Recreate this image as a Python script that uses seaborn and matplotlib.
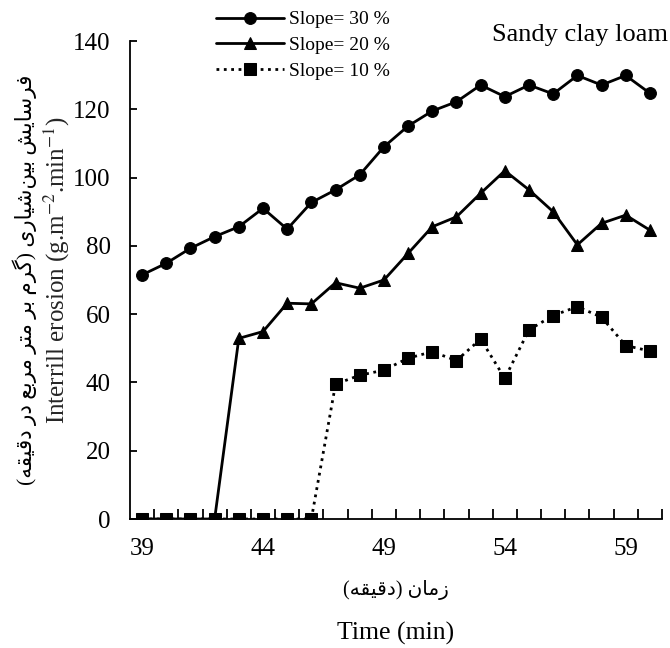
import numpy as np
import pandas as pd
import matplotlib
matplotlib.use("Agg")
import matplotlib.pyplot as plt
import seaborn as sns

# --- data -----------------------------------------------------------------
time_min = list(range(39, 61))
slope_30 = [71.5, 74.9, 79.3, 82.7, 85.6, 91.0, 84.9, 92.7, 96.4, 100.8, 109.0,
            115.1, 119.5, 122.2, 127.1, 123.7, 127.1, 124.5, 129.9, 127.1, 129.9, 124.7]
slope_20 = [0, 0, 0, 0, 52.9, 54.9, 63.2, 63.0, 69.2, 67.6, 70.0,
            77.8, 85.6, 88.5, 95.4, 102.0, 96.4, 90.0, 80.3, 86.6, 89.0, 84.6]
slope_10 = [0, 0, 0, 0, 0, 0, 0, 0, 39.5, 42.1, 43.6,
            47.1, 49.0, 46.4, 52.7, 41.2, 55.4, 59.6, 62.2, 59.1, 50.8, 49.2]
series_labels = ["Slope= 30 %", "Slope= 20 %", "Slope= 10 %"]
x_ticks = [39, 44, 49, 54, 59]
y_ticks = list(range(0, 141, 20))

# --- tiny Persian shaper (presentation forms, visual order) ----------------
FORMS = {
    "ا": ("\uFE8D", "\uFE8E", None, None),
    "ب": ("\uFE8F", "\uFE90", "\uFE91", "\uFE92"),
    "ت": ("\uFE95", "\uFE96", "\uFE97", "\uFE98"),
    "د": ("\uFEA9", "\uFEAA", None, None),
    "ر": ("\uFEAD", "\uFEAE", None, None),
    "ز": ("\uFEAF", "\uFEB0", None, None),
    "س": ("\uFEB1", "\uFEB2", "\uFEB3", "\uFEB4"),
    "ش": ("\uFEB5", "\uFEB6", "\uFEB7", "\uFEB8"),
    "ع": ("\uFEC9", "\uFECA", "\uFECB", "\uFECC"),
    "ف": ("\uFED1", "\uFED2", "\uFED3", "\uFED4"),
    "ق": ("\uFED5", "\uFED6", "\uFED7", "\uFED8"),
    "م": ("\uFEE1", "\uFEE2", "\uFEE3", "\uFEE4"),
    "ن": ("\uFEE5", "\uFEE6", "\uFEE7", "\uFEE8"),
    "ه": ("\uFEE9", "\uFEEA", "\uFEEB", "\uFEEC"),
    "ی": ("\uFEEF", "\uFEF0", "\uFEF3", "\uFEF4"),
    "گ": ("\uFB92", "\uFB93", "\uFB94", "\uFB95"),
}


def shape_fa(text):
    out = []
    for i, c in enumerate(text):
        if c not in FORMS:
            out.append(c)
            continue
        prev = text[i - 1] if i > 0 else ""
        nxt = text[i + 1] if i + 1 < len(text) else ""
        iso, fin, ini, med = FORMS[c]
        jp = prev in FORMS and FORMS[prev][2] is not None
        jn = nxt in FORMS and ini is not None
        out.append(med if (jp and jn) else fin if jp else ini if jn else iso)
    vis = "".join(out).replace("\u200c", "")[::-1]
    return vis.translate(str.maketrans("()", ")("))


fa_ylabel = shape_fa("فرسایش بین\u200cشیاری (گرم بر متر مربع در دقیقه)")
fa_xlabel = shape_fa("زمان (دقیقه)")

# --- style ------------------------------------------------------------------
sns.set_style("white")
plt.rcParams.update({
    "font.family": ["Liberation Serif", "DejaVu Sans"],
    "mathtext.fontset": "stix",
    "axes.edgecolor": "black",
    "axes.linewidth": 1.3,
    "xtick.color": "black",
    "ytick.color": "black",
    "text.color": "black",
})
FA_FONT = ["Liberation Serif", "DejaVu Sans"]

df = pd.DataFrame({"time": time_min, "s30": slope_30, "s20": slope_20, "s10": slope_10})

fig = plt.figure(figsize=(6.7, 6.48), dpi=100)
ax = fig.add_axes([130 / 670, 1 - 519 / 648, 532 / 670, 478 / 648])

styles = [
    ("s30", "o", "-"),
    ("s20", "^", "-"),
    ("s10", "s", ":"),
]
for (col, mk, ls), lab in zip(styles, series_labels):
    sns.lineplot(data=df, x="time", y=col, ax=ax, color="black", marker=mk,
                 linestyle=ls, lw=2.0, markersize=8.5, markeredgecolor="black",
                 label=lab)

handles, labels = ax.get_legend_handles_labels()
ax.get_legend().remove()
fig.legend(handles, labels, loc="upper left", bbox_to_anchor=(206 / 670, 1 - 1 / 648),
           frameon=False, fontsize=14, handlelength=3.5, handletextpad=0.25,
           labelspacing=0.42, borderpad=0)

ax.set_xlim(38.5, 60.5)
ax.set_ylim(0, 140)
ax.set_xticks(x_ticks)
ax.set_xticks(np.arange(39.5, 60.6, 1.0), minor=True)
ax.set_yticks(y_ticks)
ax.tick_params(axis="x", which="major", length=0, pad=14, labelsize=18)
ax.tick_params(axis="x", which="minor", direction="in", length=7, width=1.3,
               bottom=True)
ax.tick_params(axis="y", which="major", direction="in", length=5, width=1.3,
               pad=14, labelsize=18, left=True)
sns.despine(ax=ax)
ax.grid(False)

ax.set_xlabel("")
ax.set_ylabel(r"Interrill erosion (g.m$^{-2}$.min$^{-1}$)", fontsize=18)
ax.yaxis.set_label_coords(-0.109, 0.52)

fig.text(25 / 670, 1 - 280 / 648, fa_ylabel, rotation=90, ha="center",
         va="center", fontsize=15.5, family=FA_FONT)
fig.text(396 / 670, 1 - 590 / 648, fa_xlabel, ha="center", va="center",
         fontsize=14.5, family=FA_FONT)
fig.text(396 / 670, 1 - 633 / 648, "Time (min)", ha="center", va="center",
         fontsize=18.5)
fig.text(668 / 670, 1 - 35 / 648, "Sandy clay loam", ha="right", va="center",
         fontsize=19)

fig.savefig("out.png", dpi=100, facecolor="white")
